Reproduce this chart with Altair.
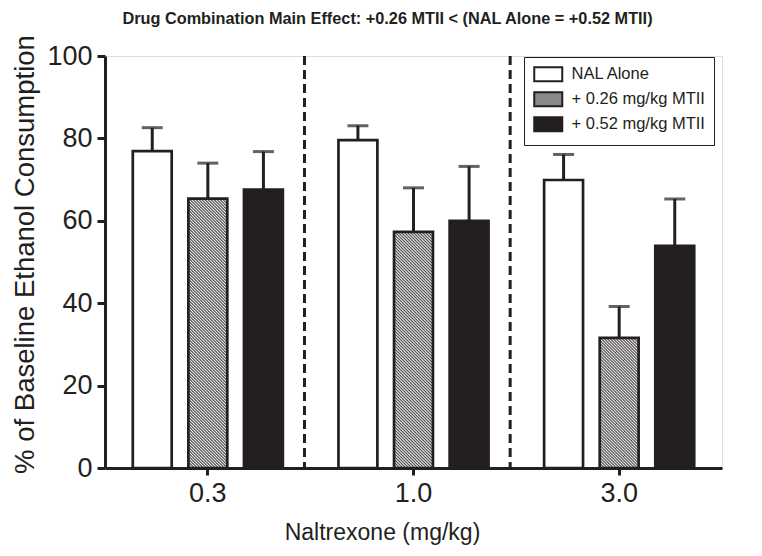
import math
from urllib.parse import quote

import altair as alt
import pandas as pd

# ---------------- data ----------------
doses = ["0.3", "1.0", "3.0"]
series = ["NAL Alone", "+ 0.26 mg/kg MTII", "+ 0.52 mg/kg MTII"]
nal_mean = [76.9, 79.6, 69.9]
nal_sem = [5.7, 3.5, 6.2]
mt26_mean = [65.4, 57.3, 31.6]
mt26_sem = [8.6, 10.7, 7.6]
mt52_mean = [67.6, 60.0, 53.9]
mt52_sem = [9.2, 13.2, 11.4]
divider_doses = ["0.3", "1.0"]
y_ticks = [0, 20, 40, 60, 80, 100]
title_text = "Drug Combination Main  Effect: +0.26 MTII < (NAL Alone = +0.52 MTII)"
x_title = "Naltrexone (mg/kg)"
y_title = "% of Baseline Ethanol Consumption"

# ---------------- style ----------------
W, H = 617, 412
INK = "#231f20"
FONT = "Liberation Sans"
PAD_IN, PAD_OUT = 0.3, 0.5

step_x = W / len(doses)
step_o = step_x / (len(series) - PAD_IN + 2 * PAD_OUT)
bar_w = step_o * (1 - PAD_IN)


def hatch_url(w, h, period=3.0, frac=0.45):
    """SVG image with diagonal hatching, sized to the bar (style only)."""
    p = period / math.sqrt(2)
    svg = (f"<svg xmlns='http://www.w3.org/2000/svg' width='{w:.2f}' height='{h:.2f}' "
           f"viewBox='0 0 {w:.2f} {h:.2f}' preserveAspectRatio='none'>"
           f"<defs><pattern id='h' width='{p:.4f}' height='{p:.4f}' "
           f"patternUnits='userSpaceOnUse' patternTransform='rotate(-45)'>"
           f"<rect width='{p * frac:.4f}' height='{p:.4f}' fill='{INK}'/></pattern></defs>"
           f"<rect width='100%' height='100%' fill='white'/>"
           f"<rect width='100%' height='100%' fill='url(#h)'/></svg>")
    return "data:image/svg+xml;charset=utf-8," + quote(svg)


rows = []
for s, means, sems in zip(series, [nal_mean, mt26_mean, mt52_mean],
                          [nal_sem, mt26_sem, mt52_sem]):
    for d, m, e in zip(doses, means, sems):
        rows.append({"dose": d, "series": s, "mean": m, "top": round(m + e, 2),
                     "hatch": hatch_url(bar_w, m * H / 100.0) if s == series[1] else ""})
df = pd.DataFrame(rows)
div_df = pd.DataFrame({"dose": divider_doses})

x_enc = alt.X("dose:N", sort=doses,
              scale=alt.Scale(domain=doses, paddingInner=0, paddingOuter=0),
              axis=alt.Axis(title=x_title, labelAngle=0, labelFont=FONT,
                            labelFontSize=27, labelColor=INK, labelPadding=5,
                            tickSize=7, tickWidth=3, tickColor=INK,
                            domainColor=INK, domainWidth=3,
                            titleFont=FONT, titleFontSize=23, titleColor=INK,
                            titleFontWeight="normal", titleX=277, titleY=71,
                            titleAlign="center", titleBaseline="alphabetic"))
xoff_enc = alt.XOffset("series:N", sort=series,
                       scale=alt.Scale(domain=series, paddingInner=PAD_IN,
                                       paddingOuter=PAD_OUT))
y_scale = alt.Scale(domain=[0, 100], nice=False)
y_axis = alt.Axis(title=y_title, values=y_ticks, grid=False, labelFont=FONT,
                  labelFontSize=27, labelColor=INK, labelPadding=5,
                  tickSize=8, tickWidth=3, tickColor=INK,
                  domainColor=INK, domainWidth=3,
                  titleFont=FONT, titleFontSize=27.5, titleColor=INK,
                  titleFontWeight="normal", titleX=-72, titleY=198,
                  titleAlign="center", titleBaseline="alphabetic")

legend = alt.Legend(
    title=None, orient="none", legendX=419, legendY=1, padding=9, rowPadding=2,
    strokeColor=INK, labelFont=FONT, labelFontSize=16.5, labelColor=INK,
    labelOffset=22, symbolType="M-1,-1H3V1H-1Z", symbolSize=196,
    symbolStrokeColor=INK, symbolStrokeWidth=2, symbolOpacity=1)

bars = alt.Chart(df).mark_bar(strokeWidth=0, opacity=1).encode(
    x=x_enc, xOffset=xoff_enc,
    y=alt.Y("mean:Q", scale=y_scale, axis=y_axis),
    fill=alt.Fill("series:N", sort=series,
                  scale=alt.Scale(domain=series, range=["white", "#8a8a8a", INK]),
                  legend=legend))

hatches = alt.Chart(df).transform_filter(
    alt.datum.series == series[1]
).mark_image(aspect=False).encode(
    x=alt.X("dose:N", sort=doses), xOffset=alt.XOffset("series:N", sort=series),
    y="mean:Q", y2=alt.datum(0), url="hatch:N")

outlines = alt.Chart(df).mark_bar(fill="transparent", stroke=INK, strokeWidth=2.7).encode(
    x=alt.X("dose:N", sort=doses), xOffset=alt.XOffset("series:N", sort=series),
    y="mean:Q")

err = alt.Chart(df).mark_rule(color=INK, strokeWidth=3).encode(
    x=alt.X("dose:N", sort=doses), xOffset=alt.XOffset("series:N", sort=series),
    y="mean:Q", y2="top:Q")

caps = alt.Chart(df).mark_tick(color=INK, thickness=3, size=21, orient="horizontal").encode(
    x=alt.X("dose:N", sort=doses), xOffset=alt.XOffset("series:N", sort=series),
    y="top:Q")

dividers = alt.Chart(div_df).mark_rule(color=INK, strokeWidth=3, strokeDash=[9, 5]).encode(
    x=alt.X("dose:N", bandPosition=0.97))

chart = alt.layer(bars, hatches, outlines, err, caps, dividers).properties(
    width=W, height=H, autosize="none",
    padding={"left": 97, "top": 48, "right": 32, "bottom": 80},
    title=alt.Title(title_text, font=FONT, fontSize=16.3, fontWeight="bold",
                    color=INK, anchor="middle", frame="group", dx=-26, dy=14,
                    offset=8, baseline="alphabetic"),
).configure_view(stroke="transparent").configure_legend(strokeWidth=3).configure(
    background="white")

chart.save("out.html", embed_options={"renderer": "svg", "actions": False})
